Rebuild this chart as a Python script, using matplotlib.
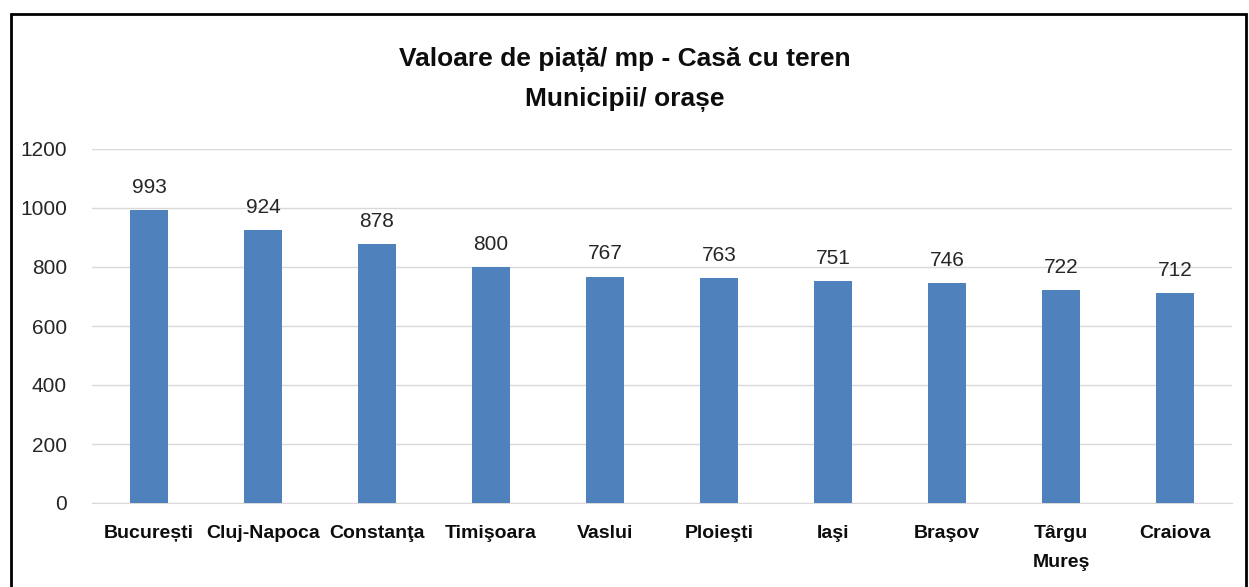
import matplotlib.pyplot as plt
from matplotlib.patches import Rectangle

cities = ['București', 'Cluj-Napoca', 'Constanţa', 'Timişoara', 'Vaslui',
          'Ploieşti', 'Iaşi', 'Braşov', 'Târgu\nMureş', 'Craiova']
values = [993, 924, 878, 800, 767, 763, 751, 746, 722, 712]
yticks = [0, 200, 400, 600, 800, 1000, 1200]

plt.rcParams['font.family'] = ['Liberation Sans', 'DejaVu Sans']

fig = plt.figure(figsize=(12.49, 5.87), dpi=100)
ax = fig.add_axes([92/1249, 1-503/587, 1140/1249, 354/587])

x = range(len(cities))
bars = ax.bar(x, values, width=0.33, color='#4F81BD', zorder=3)
for i, v in zip(x, values):
    ax.text(i, v + 45, str(v), ha='center', va='bottom', fontsize=15, color='#262626')

ax.set_xlim(-0.5, len(cities) - 0.5)
ax.set_ylim(0, 1200)
ax.set_yticks(yticks)
ax.set_yticklabels([str(t) for t in yticks], fontsize=15, color='#262626')
ax.set_xticks(list(x))
ax.set_xticklabels(cities, fontsize=14, fontweight='bold', color='#0d0d0d',
                   va='top', linespacing=1.9)
ax.tick_params(axis='both', length=0)
ax.tick_params(axis='y', pad=18)
ax.tick_params(axis='x', pad=16)
ax.grid(axis='y', color='#D9D9D9', linewidth=1, zorder=0)
for s in ['top', 'right', 'left']:
    ax.spines[s].set_visible(False)
ax.spines['bottom'].set_color('#D9D9D9')

fig.text(0.5, 1-60/587, 'Valoare de piață/ mp - Casă cu teren', ha='center', va='center',
         fontsize=19, fontweight='bold', color='#0d0d0d')
fig.text(0.5, 1-99/587, 'Municipii/ orașe', ha='center', va='center',
         fontsize=19, fontweight='bold', color='#0d0d0d')

fig.patches.append(Rectangle((11/1249, -0.1), (1246-11)/1249, 1.1 - 14/587,
                             transform=fig.transFigure, fill=False,
                             edgecolor='black', linewidth=2))

fig.savefig('out.png', dpi=100)
